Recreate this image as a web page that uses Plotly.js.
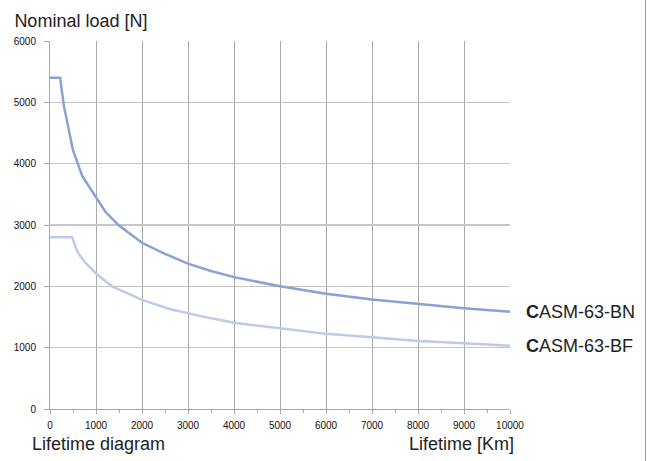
<!DOCTYPE html>
<html>
<head>
<meta charset="utf-8">
<script src="https://cdn.plot.ly/plotly-3.0.1.min.js"></script>
<style>
html,body{margin:0;padding:0;background:#fff;}
#chart{width:654px;height:461px;}
#frame{position:absolute;left:645px;top:0;width:1px;height:461px;background:#9a9a9a;}
</style>
</head>
<body>
<div id="chart"></div>
<div id="frame"></div>
<script>
// Series: CASM-63-BN
const bnLifetime = [0, 220, 300, 400, 500, 700, 1000, 1200, 1500, 2000, 2500, 3000, 3500, 4000, 5000, 6000, 7000, 8000, 9000, 10000];
const bnLoad     = [5400, 5400, 4950, 4600, 4220, 3800, 3450, 3220, 2990, 2710, 2530, 2370, 2250, 2150, 2000, 1878, 1785, 1712, 1642, 1587];
// Series: CASM-63-BF
const bfLifetime = [0, 480, 600, 750, 1000, 1350, 2000, 2600, 3300, 4000, 5000, 6000, 7000, 8000, 9000, 10000];
const bfLoad     = [2800, 2800, 2560, 2400, 2210, 2000, 1780, 1630, 1510, 1405, 1316, 1225, 1170, 1110, 1070, 1030];
const seriesNames = ['CASM-63-BN', 'CASM-63-BF'];
const xTicks = [0, 1000, 2000, 3000, 4000, 5000, 6000, 7000, 8000, 9000, 10000];
const yTicks = [0, 1000, 2000, 3000, 4000, 5000, 6000];

const traces = [
  {x: bnLifetime, y: bnLoad, mode: 'lines', name: seriesNames[0],
   line: {color: '#86a3d3', width: 2.5}, hoverinfo: 'skip'},
  {x: bfLifetime, y: bfLoad, mode: 'lines', name: seriesNames[1],
   line: {color: '#bccbe6', width: 2.5}, hoverinfo: 'skip'}
];

const labelFont = {family: 'Liberation Sans, Arial, sans-serif', size: 18, color: '#222'};
const tickFont = {family: 'Liberation Sans Narrow, Arial Narrow, Liberation Sans, sans-serif', size: 10, color: '#111'};
const layout = {
  width: 654, height: 461,
  margin: {l: 50, r: 144, t: 41, b: 52, pad: 0},
  paper_bgcolor: '#fff', plot_bgcolor: '#fff',
  showlegend: false,
  font: {family: 'Liberation Sans, Arial, sans-serif', size: 9, color: '#222'},
  title: {text: 'Nominal load [N]', xref: 'container', yref: 'container',
          x: 0.022, xanchor: 'left', y: 0.955, yanchor: 'middle',
          font: {family: 'Liberation Sans, Arial, sans-serif', size: 18, color: '#222'}},
  xaxis: {range: [0, 10000], tickvals: xTicks, ticktext: xTicks.map(String),
          showgrid: true, gridcolor: '#a9a9a9', gridwidth: 1,
          zeroline: false, showline: true, linecolor: '#a9a9a9', linewidth: 1,
          ticks: 'outside', ticklen: 4, tickcolor: '#a9a9a9', ticklabelstandoff: 3,
          minor: {dtick: 500, tick0: 0, ticks: 'outside', ticklen: 3, tickcolor: '#a9a9a9', showgrid: false},
          tickfont: tickFont, fixedrange: true},
  yaxis: {range: [0, 6000], tickvals: yTicks, ticktext: yTicks.map(String),
          showgrid: true, gridcolor: '#c6c6c6', gridwidth: 1.5,
          zeroline: false, showline: true, linecolor: '#a9a9a9', linewidth: 1,
          ticks: 'outside', ticklen: 5, tickcolor: '#a9a9a9', ticklabelstandoff: 6,
          tickfont: tickFont, fixedrange: true},
  annotations: [
    {x: bnLifetime[bnLifetime.length - 1], y: bnLoad[bnLoad.length - 1], xref: 'x', yref: 'y',
     text: '<b>C</b>ASM-63-BN', showarrow: false, xanchor: 'left', yanchor: 'middle',
     xshift: 14, font: labelFont},
    {x: bfLifetime[bfLifetime.length - 1], y: bfLoad[bfLoad.length - 1], xref: 'x', yref: 'y',
     text: '<b>C</b>ASM-63-BF', showarrow: false, xanchor: 'left', yanchor: 'middle',
     xshift: 14, font: labelFont},
    {x: (30 - 50) / 460, y: -(444 - 409) / 368, xref: 'paper', yref: 'paper', xanchor: 'left', yanchor: 'middle',
     text: 'Lifetime diagram', showarrow: false, font: labelFont},
    {x: (516 - 50) / 460, y: -(444 - 409) / 368, xref: 'paper', yref: 'paper', xanchor: 'right', yanchor: 'middle',
     text: 'Lifetime [Km]', showarrow: false, font: labelFont}
  ]
};

Plotly.newPlot('chart', traces, layout, {displayModeBar: false, staticPlot: true});
</script>
</body>
</html>
